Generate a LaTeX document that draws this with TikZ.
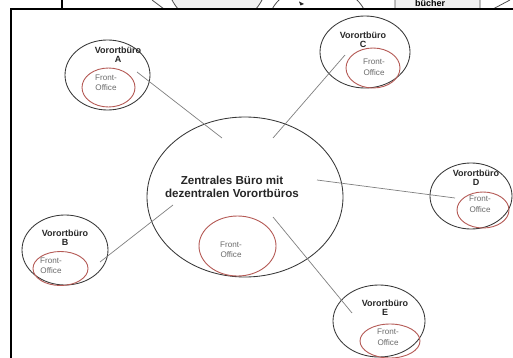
\documentclass[tikz,border=0pt]{standalone}
\usepackage{fontspec}
\setmainfont{Liberation Sans}
\usetikzlibrary{shapes.geometric}
\definecolor{fored}{HTML}{B55A55}
\begin{document}
\begin{tikzpicture}[x=1pt,y=-1pt,
  outer/.style={ellipse, draw=black!78, line width=0.85pt, inner sep=0pt},
  fo/.style={ellipse, draw=fored, line width=0.9pt, inner sep=0pt},
  title/.style={font=\fontsize{9}{9}\selectfont\bfseries, align=center, inner sep=0pt, text=black!85},
  fotext/.style={font=\fontsize{8.1}{10.5}\selectfont, align=center, inner sep=0pt, text=black!58},
  link/.style={draw=black!50, line width=0.7pt},
  frag/.style={draw=black!70, line width=0.8pt}]
\useasboundingbox (0,0) rectangle (513,358);
\clip (0,0) rectangle (513,358);
% fragments of the picture above
\begin{scope}
\clip (0,0) rectangle (513,10);
\draw[frag] (152,0) -- (164,9);
\draw[frag, fill=black!6] (217,-20.5) ellipse [x radius=50, y radius=47];
\draw[frag, fill=white] (318,25) ellipse [x radius=50, y radius=40];
\fill[black!85] (299,1.5) -- (304,4) -- (300.5,5.5) -- cycle;
\draw[frag, fill=black!6, rounded corners=8pt] (395,-30) rectangle (480,20);
\node[font=\fontsize{9}{9}\selectfont\bfseries, anchor=base, inner sep=0pt] (buecher) at (430,7) {bücher};
\draw[frag] (493,9) -- (510,0);
\end{scope}
\draw[line width=1.6pt] (62,0) -- (62,9);
% frame
\draw[line width=2pt, fill=white] (11,9) rectangle (530,380);
% central office
\node[outer, minimum width=196pt, minimum height=160pt] (Z) at (245,197) {};
\node[fo, minimum width=77pt, minimum height=60pt] (ZF) at (237.5,246) {};
\node[font=\fontsize{11.6}{12.5}\selectfont\bfseries, align=center, inner sep=0pt, text=black!85] (Zt) at (232,187) {Zentrales Büro mit\\dezentralen Vorortbüros};
\node[fotext] (ZFt) at (231,250) {Front-\\Office};
% A
\node[outer, minimum width=85pt, minimum height=70pt] (A) at (107.5,75) {};
\node[fo, minimum width=53pt, minimum height=39pt] (AF) at (108.5,87.5) {};
\node[title] (At) at (118,55) {Vorortbüro\\A};
\node[fotext] (AFt) at (106,83) {Front-\\Office};
% C
\node[outer, minimum width=90pt, minimum height=72pt] (C) at (365,52) {};
\node[fo, minimum width=54pt, minimum height=40pt] (CF) at (373,68) {};
\node[title] (Ct) at (363,39.5) {Vorortbüro\\C};
\node[fotext] (CFt) at (374,67.5) {Front-\\Office};
% D
\node[outer, minimum width=82pt, minimum height=66pt] (D) at (471,196) {};
\node[fo, minimum width=52pt, minimum height=36pt] (DF) at (483,210) {};
\node[title] (Dt) at (476,178) {Vorortbüro\\D};
\node[fotext] (DFt) at (480,204.5) {Front-\\Office};
% B
\node[outer, minimum width=86pt, minimum height=70pt] (B) at (65,250) {};
\node[fo, minimum width=55pt, minimum height=34pt] (BF) at (60.5,268.5) {};
\node[title] (Bt) at (65,237.5) {Vorortbüro\\B};
\node[fotext] (BFt) at (51,266) {Front-\\Office};
% E
\node[outer, minimum width=92pt, minimum height=72pt] (E) at (379,321) {};
\node[fo, minimum width=60pt, minimum height=34pt] (EF) at (390,341) {};
\node[title] (Et) at (385,307.5) {Vorortbüro\\E};
\node[fotext] (EFt) at (388,337) {Front-\\Office};
% connectors
\coordinate (a1) at (137,72);  \coordinate (a2) at (222,138);
\coordinate (c1) at (345,55);  \coordinate (c2) at (273,138);
\coordinate (d1) at (317,180); \coordinate (d2) at (455,198);
\coordinate (b1) at (100,262); \coordinate (b2) at (173,205);
\coordinate (e1) at (273,217); \coordinate (e2) at (352,313);
\draw[link] (a1) -- (a2);
\draw[link] (c1) -- (c2);
\draw[link] (d1) -- (d2);
\draw[link] (b1) -- (b2);
\draw[link] (e1) -- (e2);
\end{tikzpicture}
\end{document}
